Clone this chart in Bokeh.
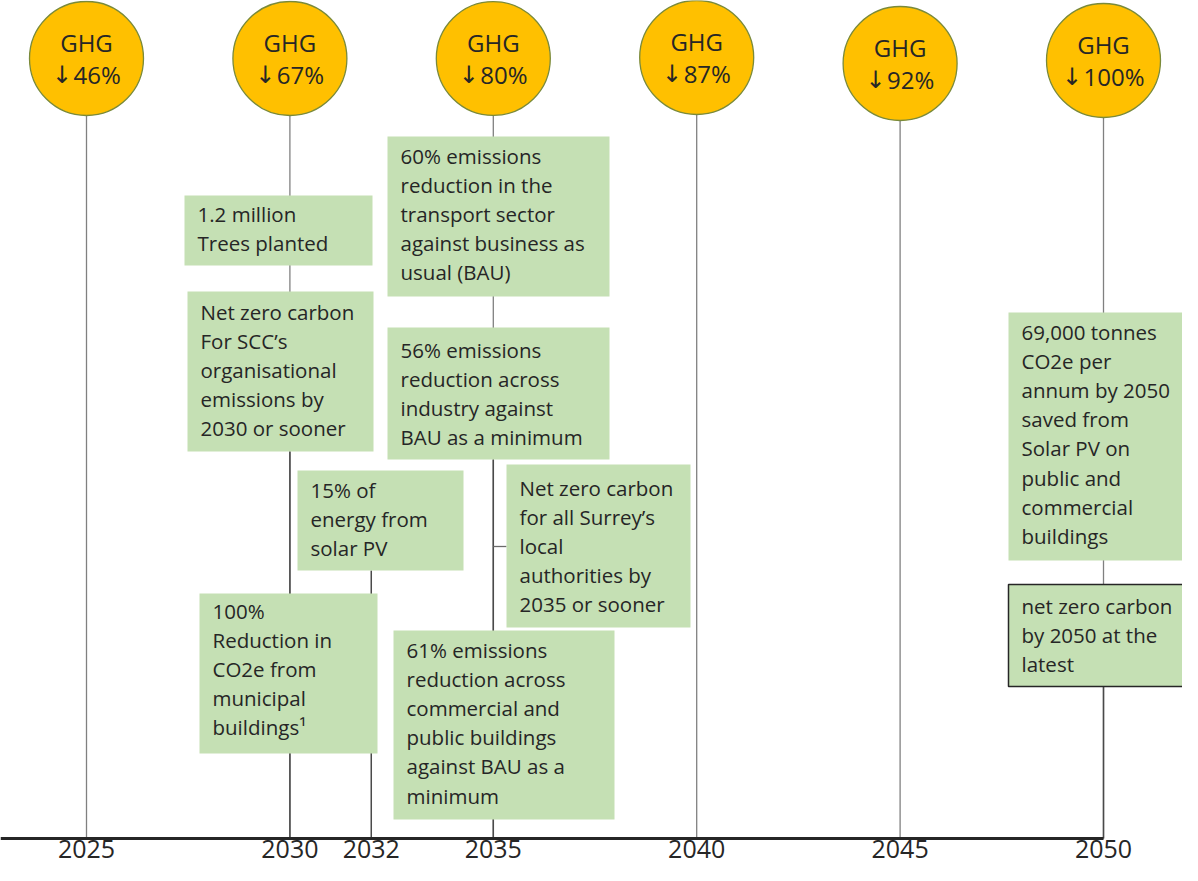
from bokeh.plotting import figure
from bokeh.models import Range1d, FixedTicker
from bokeh.core.properties import value
from bokeh.embed import file_html
from bokeh.resources import INLINE

# ---------------- data ----------------
axis_years = [2025, 2030, 2032, 2035, 2040, 2045, 2050]
ghg_years = [2025, 2030, 2035, 2040, 2045, 2050]
ghg_reduction = [46, 67, 80, 87, 92, 100]

milestone_years = [2030, 2030, 2035, 2035, 2032, 2035, 2030, 2035, 2050, 2050]
milestone_texts = [
    "1.2 million\nTrees planted",
    "Net zero carbon\nFor SCC\u2019s\norganisational\nemissions by\n2030 or sooner",
    "60% emissions\nreduction in the\ntransport sector\nagainst business as\nusual (BAU)",
    "56% emissions\nreduction across\nindustry against\nBAU as a minimum",
    "15% of\nenergy from\nsolar PV",
    "Net zero carbon\nfor all Surrey\u2019s\nlocal\nauthorities by\n2035 or sooner",
    "100%\nReduction in\nCO2e from\nmunicipal\nbuildings\u00b9",
    "61% emissions\nreduction across\ncommercial and\npublic buildings\nagainst BAU as a\nminimum",
    "69,000 tonnes\nCO2e per\nannum by 2050\nsaved from\nSolar PV on\npublic and\ncommercial\nbuildings",
    "net zero carbon\nby 2050 at the\nlatest",
]

# ---------------- layout (pixels) ----------------
W, H = 1182, 865
PX0, PX_PER_YEAR = 86.0, 40.68
def X(px):
    return 2025 + (px - PX0) / PX_PER_YEAR

AXIS_Y = 838
circle_y = [58, 58, 58, 57, 63, 60]
circle_d = 114
# left, top, right, bottom, first-line y
box_layout = [
    (184, 195, 372, 265, 213),
    (187, 291, 373, 451, 311),
    (387, 136, 609, 296, 155),
    (387, 327, 609, 459, 349),
    (297, 470, 463, 570, 489),
    (506, 464, 690, 627, 487),
    (199, 593, 377, 753, 610),
    (393, 630, 614, 819, 649),
    (1008, 312, 1195, 560, 331),
    (1008, 584, 1197, 686, 605),
]
box_border = [None] * 9 + ["#262626"]
LINE_H = 29.2
FONT = "Open Sans"
TXT = "#262626"
CFS = 24  # circle text size, px

x_start, x_end = X(0), X(W)

p = figure(width=W, height=H,
           x_range=Range1d(x_start, x_end), y_range=Range1d(H, 0),
           output_backend="svg", toolbar_location=None,
           y_axis_location=None, min_border=0)
p.xgrid.visible = False
p.ygrid.visible = False
p.outline_line_color = None
p.background_fill_color = "white"
p.border_fill_color = "white"

# vertical year lines
p.segment(x0=ghg_years, y0=[cy + circle_d / 2 for cy in circle_y],
          x1=ghg_years, y1=[AXIS_Y] * len(ghg_years),
          line_color="#808080", line_width=1.3)
# darker lower parts
dark_years = [2030, 2035, 2050, 2032]
dark_top = [451, 459, 686, 570]
p.segment(x0=dark_years, y0=dark_top, x1=dark_years, y1=[AXIS_Y] * 4,
          line_color="#4a4a4a", line_width=1.5)
# small connector to Surrey's box
p.segment(x0=[2035], y0=[546], x1=[X(506)], y1=[546], line_color="#6a6a6a", line_width=1.3)

# boxes
for (l, t, r, b, fy), col in zip(box_layout, box_border):
    p.quad(left=[X(l)], right=[X(r)], top=[t], bottom=[b],
           fill_color="#C5E0B4", line_color=col if col else None,
           line_width=1.5 if col else 0)

# box texts
tx, ty, tt = [], [], []
for (l, t, r, b, fy), txt in zip(box_layout, milestone_texts):
    for i, line in enumerate(txt.split("\n")):
        tx.append(X(l + 13))
        ty.append(fy + i * LINE_H)
        tt.append(line)
p.text(x=tx, y=ty, text=tt, text_font=value(FONT), text_font_size="20.5px",
       text_color=TXT, text_baseline="middle", text_align="left")

# GHG circles
p.scatter(x=ghg_years, y=circle_y, size=circle_d, marker="circle",
          fill_color="#FFC000", line_color="#7a8a3a", line_width=1.3)
p.text(x=ghg_years, y=[cy - 16 for cy in circle_y], text=["GHG"] * len(ghg_years),
       text_font=value(FONT), text_font_size="%dpx" % CFS, text_color=TXT,
       text_baseline="middle", text_align="center")

pct_text = ["%d%%" % v for v in ghg_reduction]
ARROW_W = 21
# left edge of "arrow + percentage" so that the pair is centred in the circle
pct_w = [(len(s) - 1) * 0.572 * CFS + 0.82 * CFS for s in pct_text]
left_px = [-(ARROW_W + w) / 2 for w in pct_w]
pct_x = [y + (l + ARROW_W) / PX_PER_YEAR for y, l in zip(ghg_years, left_px)]
arr_x = [y + (l + ARROW_W / 2 - 1) / PX_PER_YEAR for y, l in zip(ghg_years, left_px)]
p.text(x=pct_x, y=[cy + 16 for cy in circle_y], text=pct_text,
       text_font=value(FONT), text_font_size="%dpx" % CFS, text_color=TXT,
       text_baseline="middle", text_align="left")
p.text(x=arr_x, y=[cy + 16 for cy in circle_y], text=["\u2193"] * len(ghg_years),
       text_font=value("DejaVu Sans"), text_font_size="%dpx" % CFS, text_color=TXT,
       text_baseline="middle", text_align="center")

# axis, drawn inside the frame at the timeline position
ax = p.xaxis[0]
ax.fixed_location = AXIS_Y
ax.ticker = FixedTicker(ticks=axis_years)
ax.bounds = (x_start, 2050)
ax.axis_line_width = 3
ax.axis_line_color = "#262626"
ax.major_tick_line_color = None
ax.major_tick_out = 0
ax.major_tick_in = 0
ax.minor_tick_line_color = None
ax.major_label_text_font = FONT
ax.major_label_text_font_size = "25px"
ax.major_label_text_color = TXT
ax.major_label_standoff = 1

open("out.html", "w").write(file_html(p, INLINE))
